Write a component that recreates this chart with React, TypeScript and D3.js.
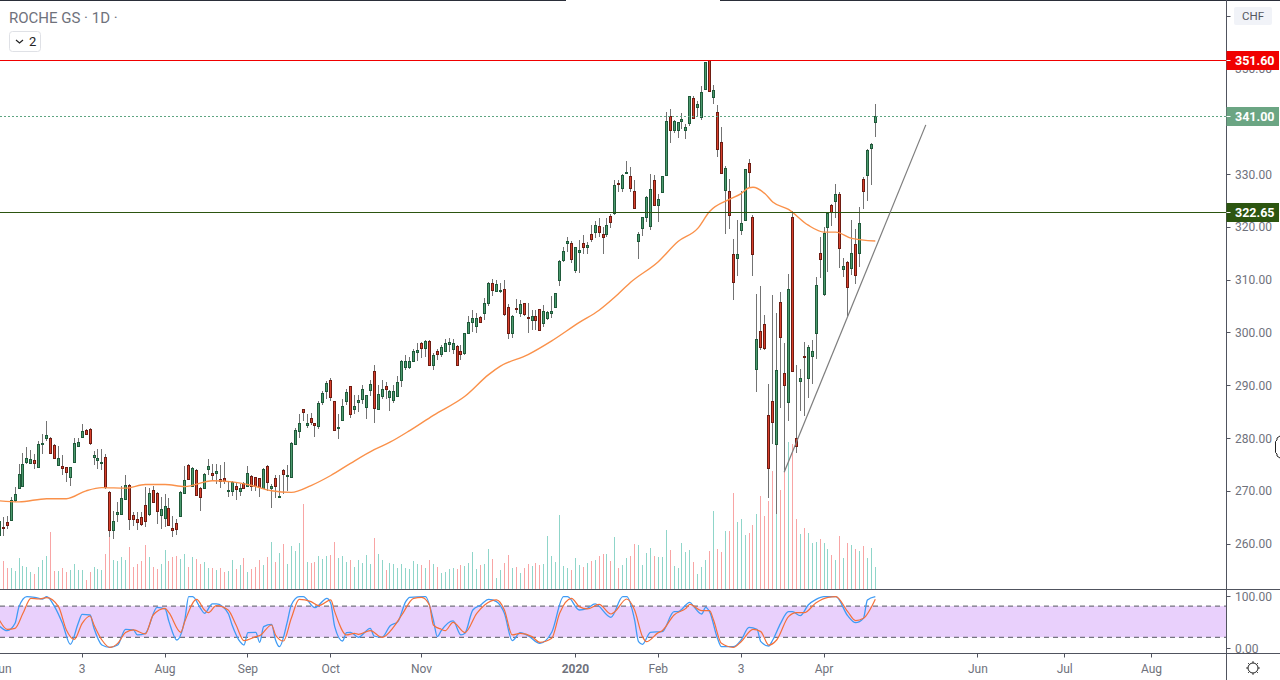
import React from "react";
import * as d3 from "d3";

const opens = [
  261.7,263.1,264.0,264.4,268.3,270.5,270.9,275.4,275.2,275.9,
  274.5,278.8,280.0,280.0,278.7,274.8,274.7,274.5,272.6,275.5,
  278.4,280.2,281.6,281.7,276.4,275.9,275.2,276.4,269.8,262.6,
  265.6,265.7,268.4,271.1,265.4,264.7,265.0,267.3,265.6,270.2,
  269.6,265.4,264.9,266.8,263.0,263.9,265.2,269.5,274.9,270.9,
  274.0,270.5,270.5,274.1,273.4,273.3,272.3,272.5,269.9,269.9,
  270.9,269.9,271.5,270.9,272.8,272.6,272.4,270.6,274.7,270.5,
  272.4,268.9,274.0,272.8,272.6,278.8,281.3,285.4,282.4,283.8,
  282.8,282.3,286.8,288.9,291.0,287.1,281.9,283.4,287.0,289.9,
  285.5,286.8,287.4,285.8,289.1,292.6,285.5,288.0,289.9,287.7,
  287.2,288.0,291.0,293.4,293.4,294.6,296.2,297.9,297.1,298.4,
  293.8,296.5,295.9,296.5,297.8,296.9,297.5,296.5,296.1,299.9,
  302.0,301.3,303.0,303.7,305.6,309.4,307.9,307.9,308.3,304.9,
  299.8,304.7,303.7,305.5,303.0,302.4,303.2,304.4,301.8,302.7,
  303.6,304.9,310.0,313.7,317.0,317.0,311.8,315.3,317.0,316.2,
  318.7,319.1,320.1,318.7,318.7,322.0,322.7,328.3,327.4,330.2,
  329.7,326.7,317.4,319.8,321.9,320.2,328.8,324.2,326.5,329.9,
  340.9,338.3,338.3,340.1,338.4,339.6,344.4,342.7,340.8,346.1,
  351.5,344.5,341.7,336.0,326.9,326.7,314.9,314.0,319.3,321.2,
  332.0,321.8,293.1,300.3,301.5,284.4,287.1,278.8,305.7,292.4,
  286.8,321.8,280.0,290.8,295.5,291.4,295.5,299.9,315.0,307.3,
  320.0,324.1,324.9,326.3,312.0,313.4,312.2,316.8,315.1,329.0,
  329.9,335.0,339.9,
];
const highs = [
  265.1,265.0,265.3,268.8,270.8,275.0,277.1,278.3,277.8,277.0,
  279.4,280.8,283.3,280.2,278.9,278.4,276.7,274.6,274.6,280.0,
  280.0,282.7,281.7,281.8,277.6,278.0,278.0,276.9,269.9,266.2,
  267.8,271.0,272.9,271.3,265.9,265.9,265.9,270.7,270.5,271.0,
  269.8,268.9,269.3,268.7,265.3,264.7,269.9,274.7,275.0,274.6,
  274.2,270.8,273.3,276.0,275.1,275.1,274.8,275.4,271.9,271.9,
  271.6,271.3,271.6,274.7,272.9,272.7,272.5,274.3,274.8,271.3,
  272.9,272.9,274.2,274.8,279.2,281.9,284.6,285.4,284.6,284.8,
  282.9,287.1,288.9,290.8,291.4,287.1,284.6,287.3,289.3,289.9,
  288.1,288.1,290.0,288.2,290.9,293.9,290.0,290.9,290.6,289.1,
  290.1,291.7,294.7,295.8,295.3,296.9,297.9,298.2,298.5,298.5,
  296.1,296.9,297.6,298.8,299.0,298.8,297.6,297.6,299.8,303.1,
  304.2,303.6,303.2,306.6,309.5,310.1,309.9,309.3,310.0,305.3,
  303.3,306.4,306.1,305.5,305.5,304.2,304.2,304.5,305.1,304.0,
  306.9,307.4,313.7,316.2,318.1,317.3,316.2,317.5,318.4,317.2,
  320.3,321.1,321.6,320.0,321.6,322.5,328.9,328.9,330.0,332.5,
  331.3,328.9,319.1,321.8,325.8,330.0,329.8,326.2,329.7,341.8,
  342.3,340.2,339.9,341.5,339.5,344.8,344.7,343.9,346.7,351.3,
  351.6,346.9,343.1,338.9,331.5,329.0,317.6,321.3,326.8,331.0,
  332.8,322.2,307.2,308.8,303.3,290.2,307.0,303.6,307.6,297.9,
  311.0,322.9,293.8,293.1,298.2,297.6,298.5,310.5,318.0,320.0,
  322.7,324.4,328.2,326.6,314.0,313.6,321.3,319.5,323.7,329.4,
  334.7,335.8,343.3,
];
const lows = [
  261.2,261.5,262.7,264.2,267.8,270.4,270.8,275.1,275.1,274.1,
  274.4,277.0,279.4,277.0,276.0,274.7,272.9,271.6,271.0,275.4,
  278.3,280.0,280.6,278.6,274.8,274.2,274.0,270.4,261.3,260.8,
  264.0,265.6,268.3,262.6,263.4,262.6,263.4,263.2,265.3,267.7,
  263.8,262.8,263.1,263.3,261.3,261.7,265.0,269.4,272.1,270.7,
  269.1,266.2,270.3,272.9,271.9,271.3,270.5,271.3,268.8,269.1,
  268.3,269.1,270.4,270.7,270.0,270.0,268.8,270.5,270.0,266.7,
  268.7,268.8,269.4,270.0,272.4,278.7,280.0,283.2,281.9,282.4,
  280.2,281.7,286.2,287.4,287.1,281.4,279.8,283.3,286.2,283.8,
  284.6,284.9,286.5,283.6,287.9,282.8,285.3,287.4,287.4,285.1,
  286.6,288.0,289.6,292.9,293.1,294.5,294.6,295.2,295.3,293.8,
  292.9,294.7,295.3,296.5,296.3,296.0,293.6,294.7,295.7,299.8,
  300.1,299.9,301.8,302.3,305.0,306.9,307.6,307.4,303.2,298.8,
  298.9,303.6,302.9,303.2,299.8,300.4,300.4,300.4,301.0,302.3,
  302.7,304.8,308.8,313.4,315.3,313.2,311.3,311.3,314.8,314.8,
  317.2,317.8,318.1,314.8,318.1,319.8,322.2,326.6,326.6,330.0,
  326.6,323.4,313.9,318.3,321.0,319.4,324.0,321.0,326.5,329.7,
  335.8,337.7,336.9,338.5,336.7,339.0,340.4,340.9,340.2,345.9,
  345.6,343.3,333.3,330.0,318.6,319.6,306.1,310.6,318.4,321.2,
  327.3,310.6,288.8,296.6,296.6,268.7,278.8,265.7,285.6,273.5,
  283.3,292.7,277.1,285.1,284.1,287.5,290.2,294.9,310.3,306.9,
  311.5,320.1,321.6,312.2,310.5,303.2,310.8,309.1,312.4,323.4,
  324.8,327.9,337.1,
];
const closes = [
  264.2,262.9,263.6,268.3,269.4,273.2,275.1,276.2,276.0,275.2,
  278.9,279.0,280.6,277.1,276.2,276.2,274.4,273.5,274.5,279.1,
  279.3,281.4,280.7,279.0,276.7,276.2,275.5,270.7,262.5,264.3,
  266.0,268.7,271.1,264.6,264.6,264.0,263.7,264.2,269.5,267.8,
  266.1,266.6,267.1,263.5,262.5,262.7,269.8,272.1,272.2,274.3,
  269.2,268.8,273.2,274.7,272.9,273.8,271.8,271.8,270.2,271.7,
  270.3,270.5,270.5,273.4,270.9,270.9,270.8,274.2,271.6,270.9,
  270.9,269.0,273.1,272.9,279.1,281.6,282.9,284.9,282.9,283.1,
  282.4,286.7,288.6,290.5,287.8,281.5,282.1,286.1,288.8,284.6,
  286.1,287.2,289.3,288.2,290.3,285.7,288.4,289.3,289.3,288.9,
  288.9,290.7,294.5,294.6,294.6,296.5,296.7,297.0,298.4,293.8,
  295.8,295.9,297.3,297.9,298.1,297.9,293.8,295.9,299.8,301.9,
  302.8,302.8,302.0,305.5,309.4,308.1,309.1,308.1,303.4,299.9,
  303.2,304.5,305.3,303.4,302.7,303.2,302.4,300.5,304.1,303.8,
  304.1,307.4,313.6,315.5,317.3,313.9,316.1,315.7,316.1,316.5,
  317.7,320.4,319.1,318.0,320.3,321.0,327.9,328.2,329.9,330.3,
  327.4,323.5,318.7,321.8,325.6,327.1,324.1,325.2,329.7,340.0,
  338.3,340.0,339.8,340.4,338.9,344.7,340.6,343.2,345.5,351.2,
  345.7,345.9,334.7,330.1,331.1,322.3,309.6,314.8,320.8,330.9,
  330.3,314.9,298.8,297.2,297.1,274.3,283.0,292.8,299.1,290.0,
  308.2,292.7,278.5,291.4,295.4,297.3,296.5,308.9,313.9,318.8,
  322.7,322.8,326.3,316.0,312.5,308.6,315.0,310.9,320.8,326.8,
  334.5,335.6,341.0,
];
const volumes = [
  28,28.3,21,21,18.3,31.3,23.3,22,17,15.3,22.3,29.3,33.3,57.3,18.3,18.3,21.3,17.3,19.3,25.3,
  19.3,19.3,9.3,17.3,22.3,20.3,19.3,35.3,53.3,29.3,28.3,32.3,29.3,42.3,22.3,25.3,28.3,44.3,32.3,22.3,
  20.3,25.3,39.3,28.3,32.3,33.3,30.3,35.3,22.3,32.3,30.3,25.3,27.3,21.3,21.3,19.3,21.3,17.3,18.3,29.3,
  20.3,24.3,31.3,17.3,20.3,22.3,29.3,24.3,32.3,47.3,27.3,36.3,45.3,25.3,43.3,38.3,46.3,85.3,27.3,26.3,
  27.3,33.3,30.3,33.3,34.3,47.3,31.3,33.3,27.3,29.3,22.3,29.3,26.3,34.3,25.3,51.3,35.3,29.3,19.3,26.3,
  25.3,21.3,25.3,21.3,20.3,28.3,25.3,24.3,21.3,29.3,25.3,22.3,
  16,17,20,21,20,24,23,26,37,20,24,25,40,30,11,19,26,34,21,22,
  16,21,25,23,26,24,25,53,33,27,74,23,21,19,31,24,22,26,28,29,
  33,35,35,28,52,21,24,31,33,45,44,24,36,41,33,32,32,59,39,23,
  21,46,37,39,27,15,22,29,38,78,40,37,58,58,96,67,70,54,56,64,
  75,93,73,88,118,89,99,119,147,145,70,55,61,56,46,47,50,46,40,34,
  29,53,31,46,44,40,38,43,31,41,22,
];

// moving average, read at its bends
const maIdx = [0,5,12,17,22,26,32,37,42,47,54,59,64,69,74,79,84,89,95,99,104,110,118,124,127,134,140,147,152,156,160,167,172,177,180,185,188,190,191,194,196,200,205,209,212,216,222];
const maVals = [268.1,267.9,268.5,268.5,270.0,270.6,270.5,271.2,271.2,270.8,271.9,271.7,271.0,270.0,269.7,271.0,272.9,275.2,277.8,279.2,281.4,284.3,287.9,292.0,293.6,295.8,298.4,301.9,304.2,306.7,309.5,313.4,317.2,319.7,322.9,325.2,326.3,327.4,327.5,326.3,324.7,323.3,320.3,319.0,319.0,317.8,317.3];

// stochastic %K
const kIdx = [0,2,4,5,7,9,11,12,14,16,18,20,21,23,24,26,28,30,32,34,35,37,40,42,43,45,47,48,49,51,52,54,55,58,59,61,62,63,65,66,67,69,70,71,73,74,76,77,80,81,83,84,85,87,88,89,91,94,95,97,99,101,103,104,108,110,111,112,115,117,118,120,122,124,126,128,130,132,134,137,140,143,144,147,149,151,155,158,159,161,162,163,165,168,171,172,175,176,178,179,180,182,183,186,188,190,192,193,195,196,198,200,201,203,205,207,209,212,215,217,219,220,222];
const kVals = [41.8,32.8,46.9,79,98.2,96.9,93.7,98.2,79,46.9,6.5,46.9,64.2,62.9,37.3,5.2,0.7,5.2,35.4,34.1,24.5,27.7,77.7,74.5,50.1,14.8,53.3,98.2,98.2,75.7,66.1,84.1,84.1,66.1,43.7,11.6,5.2,29,29.6,10.4,40.5,45,14.8,2,50.1,82.2,98.2,98.2,77,82.2,95,85.4,40.5,12.9,29,29.6,20,37.3,22.5,20,41.8,50.1,88.6,96.9,98.2,53.3,21.3,32.8,51.4,24.5,27.7,72.5,82.2,93,88.6,66.1,13.6,29,23.2,8.4,29.6,98.2,98.2,72.5,75.7,84.1,58.4,98.2,98.2,53.3,11.6,6.5,29.6,30.9,69.3,69.3,87.3,79,64.8,77.7,69.3,18.1,2,2,14.8,39.2,35.4,11.6,3.3,14.8,46.9,69.3,69.3,61.6,82.2,93,98.2,98.2,61.6,48.2,56.5,91.8,98.2];
// stochastic %D
const dIdx = [0,2,4,6,8,10,12,15,17,19,21,23,24,26,28,30,32,34,37,39,42,43,46,47,50,52,53,55,58,60,62,65,66,69,70,72,74,76,79,81,84,85,88,90,91,94,97,100,102,105,107,109,110,112,113,115,118,121,123,126,128,130,132,135,137,140,142,145,147,149,152,155,156,159,161,163,164,167,168,171,174,175,178,180,181,183,186,188,191,193,195,197,200,202,204,207,210,212,215,217,219,222];
const dVals = [53.3,35.4,37.3,66.1,95,93.7,96.3,79,34.1,16.1,46.9,61,43.7,14.8,0.7,8.4,29,34.1,26.4,62.9,75.7,67.4,29.6,50.1,93,72.5,67.4,80.9,72.5,43.7,13.6,21.3,23.2,43.7,24.5,12.9,56.5,93,88.6,80.9,91.8,69.3,24.5,27.7,25.7,32.8,20,40.5,62.9,95,96.9,82.2,43.7,35.4,32.8,48.8,29,66.1,82.2,91.8,72.5,24.5,27.7,21.3,10.4,18.1,66.1,95,79,74.5,83.4,64.8,69.3,93.7,72.5,21.3,11.6,29,32.8,62.9,75.7,83.4,71.3,71.3,53.3,8.4,0.7,11.6,35.4,30.9,5.2,14.8,59.7,67.4,67.4,86.6,96.9,98.2,69.3,52,56.5,93];

const priceTicks = [260, 270, 280, 290, 300, 310, 320, 330, 350];
const stochTicks = [100, 0];
const timeTickIdx = [0.6, 21, 42, 63, 84, 107, 146, 167, 188, 209, 248, 270, 292];
const timeTickLabels = ["Jun", "3", "Aug", "Sep", "Oct", "Nov", "2020", "Feb", "3", "Apr", "Jun", "Jul", "Aug"];

const resistance = 351.6;
const support = 322.65;
const lastPrice = 341.0;
const trendIdx = [198.9, 234.8];
const trendVals = [273.5, 339.3];

const W = 1280;
const H = 680;
const plotR = 1226.5;
const paneTop = 589.5;
const paneBottom = 653.5;

const font = "Roboto, 'Liberation Sans', sans-serif";
const grey = "#6f727c";
const axisCol = "#50535e";

const x = d3.scaleLinear().domain([0, 222]).range([-0.7, 875.3]);
const y = d3.scaleLinear().domain([260, 330]).range([543.6, 174]);
const yVol = d3.scaleLinear().domain([0, 147]).range([589, 442]);
const yStoch = d3.scaleLinear().domain([0, 100]).range([647.7, 595.7]);

const maLine = d3
  .line<number>()
  .x((d) => x(d))
  .y((_, i) => y(maVals[i]))
  .curve(d3.curveMonotoneX);
const kLine = d3
  .line<number>()
  .x((d) => x(d))
  .y((_, i) => yStoch(kVals[i]))
  .curve(d3.curveMonotoneX);
const dLine = d3
  .line<number>()
  .x((d) => x(d))
  .y((_, i) => yStoch(dVals[i]))
  .curve(d3.curveMonotoneX);

const fmt = d3.format(".2f");
const levelY = (v: number) => Math.floor(y(v) + 0.1) + 0.5;

const PriceTag = ({ value, fill }: { value: number; fill: string }) => {
  const cy = levelY(value);
  return (
    <g>
      <rect x={plotR} y={cy - 9.5} width={W - plotR - 1} height={19} fill={fill} />
      <line x1={plotR} x2={plotR + 4} y1={cy} y2={cy} stroke="#fff" />
      <text x={1235} y={cy + 4.5} fill="#fff" fontSize={12.5} fontWeight={700} fontFamily={font}>
        {fmt(value)}
      </text>
    </g>
  );
};

export default function App() {
  return (
    <svg
      width={W}
      height={H}
      style={{ position: "fixed", left: 0, top: 0, background: "#fff" }}
    >
      <defs>
        <clipPath id="plot">
          <rect x={0} y={0} width={plotR} height={paneTop} />
        </clipPath>
      </defs>

      {/* volume */}
      <g shapeRendering="crispEdges">
        {volumes.map((v, i) => (
          <rect
            key={i}
            x={Math.floor(x(i))}
            y={yVol(v)}
            width={1}
            height={yVol(0) - yVol(v)}
            fill={closes[i] >= opens[i] ? "#8fd5c9" : "#f8a5a5"}
          />
        ))}
      </g>

      {/* candles */}
      <g shapeRendering="crispEdges" clipPath="url(#plot)">
        {opens.map((o, i) => {
          const c = closes[i];
          const up = c >= o;
          const px = Math.floor(x(i));
          const top = Math.round(y(Math.max(o, c)));
          const bot = Math.max(Math.round(y(Math.min(o, c))), top + 1);
          return (
            <g key={i}>
              <rect
                x={px}
                y={y(highs[i])}
                width={1}
                height={y(lows[i]) - y(highs[i])}
                fill="#737373"
              />
              <rect
                x={px - 0.5}
                y={top + 0.5}
                width={2}
                height={bot - top}
                fill={up ? "#4b9a6e" : "#d8402c"}
                stroke={up ? "#1f5a3a" : "#6e1c12"}
                strokeWidth={1}
              />
            </g>
          );
        })}
      </g>

      {/* moving average */}
      <path d={maLine(maIdx) || ""} fill="none" stroke="#fa914a" strokeWidth={1.4} />

      {/* horizontal levels */}
      <line x1={0} x2={plotR} y1={levelY(resistance)} y2={levelY(resistance)} stroke="#f00000" />
      <line x1={0} x2={plotR} y1={levelY(support)} y2={levelY(support)} stroke="#2c5510" />
      <line x1={0} x2={plotR} y1={levelY(lastPrice)} y2={levelY(lastPrice)} stroke="#5fa582" strokeDasharray="2 2" />

      {/* trend line */}
      <line
        x1={x(trendIdx[0])}
        y1={y(trendVals[0])}
        x2={x(trendIdx[1])}
        y2={y(trendVals[1])}
        stroke="#7d7d7d"
        strokeWidth={1.2}
      />

      {/* stochastic pane */}
      <rect
        x={0}
        y={yStoch(80)}
        width={plotR}
        height={yStoch(20) - yStoch(80)}
        fill="#e9d0fc"
      />
      <line x1={0} x2={plotR} y1={yStoch(80)} y2={yStoch(80)} stroke="#55575f" strokeDasharray="5 4" />
      <line x1={0} x2={plotR} y1={yStoch(20)} y2={yStoch(20)} stroke="#55575f" strokeDasharray="5 4" />
      <path d={kLine(kIdx) || ""} fill="none" stroke="#3f9bf5" strokeWidth={1.3} />
      <path d={dLine(dIdx) || ""} fill="none" stroke="#f4703a" strokeWidth={1.2} />

      {/* frame */}
      <line x1={0} x2={566} y1={0.5} y2={0.5} stroke="#2a2e39" />
      <line x1={720} x2={W} y1={0.5} y2={0.5} stroke="#2a2e39" />
      <line x1={0} x2={W} y1={paneTop} y2={paneTop} stroke={axisCol} />
      <line x1={0} x2={W} y1={paneBottom} y2={paneBottom} stroke={axisCol} />
      <line x1={plotR} x2={plotR} y1={0} y2={H} stroke={axisCol} />

      {/* price axis */}
      {priceTicks.map((t) => (
        <g key={t}>
          <line x1={plotR} x2={plotR + 4} y1={Math.round(y(t)) + 0.5} y2={Math.round(y(t)) + 0.5} stroke={axisCol} />
          <text x={1235} y={y(t) + 4.5} fontSize={12} fill={grey} fontFamily={font}>
            {fmt(t)}
          </text>
        </g>
      ))}
      <line x1={plotR} x2={plotR + 4} y1={16.5} y2={16.5} stroke={axisCol} />
      {stochTicks.map((t) => (
        <g key={t}>
          <line x1={plotR} x2={plotR + 4} y1={Math.round(yStoch(t)) + 0.5} y2={Math.round(yStoch(t)) + 0.5} stroke={axisCol} />
          <text x={1235} y={yStoch(t) + 5} fontSize={12} fill={grey} fontFamily={font}>
            {fmt(t)}
          </text>
        </g>
      ))}
      <PriceTag value={resistance} fill="#f00000" />
      <PriceTag value={lastPrice} fill="#6ba583" />
      <PriceTag value={support} fill="#2c5510" />

      {/* CHF button */}
      <rect x={1234} y={7} width={38} height={18} rx={2} fill="#f1f3f8" />
      <text x={1253} y={20} textAnchor="middle" fontSize={11.5} fill="#55585f" fontFamily={font}>
        CHF
      </text>

      {/* time axis */}
      {timeTickIdx.map((t, i) => (
        <g key={i}>
          {i > 0 && (
            <line x1={Math.floor(x(t)) + 0.5} x2={Math.floor(x(t)) + 0.5} y1={paneBottom} y2={paneBottom + 4} stroke={axisCol} />
          )}
          <text
            x={x(t)}
            y={673}
            textAnchor="middle"
            fontSize={12}
            fontWeight={timeTickLabels[i] === "2020" ? 700 : 400}
            fill={grey}
            fontFamily={font}
          >
            {timeTickLabels[i]}
          </text>
        </g>
      ))}

      {/* legend */}
      <text x={9} y={23} fontSize={15} fill={grey} fontFamily={font}>
        ROCHE GS · 1D ·
      </text>
      <rect x={9.5} y={31.5} width={31} height={20} rx={3} fill="#fff" stroke="#dfe1e6" />
      <path d="M16 40 l3.5 3 l3.5 -3" fill="none" stroke="#222" strokeWidth={1.2} />
      <text x={29} y={46} fontSize={13} fill="#222" fontFamily={font}>
        2
      </text>

      {/* settings gear */}
      <g transform="translate(1253,668)" stroke="#222" fill="none">
        <circle r={5} />
        {d3.range(8).map((i) => {
          const a = (i * Math.PI) / 4;
          return (
            <line
              key={i}
              x1={5 * Math.cos(a)}
              y1={5 * Math.sin(a)}
              x2={6.8 * Math.cos(a)}
              y2={6.8 * Math.sin(a)}
            />
          );
        })}
      </g>

      {/* resize cursor at the edge */}
      <path
        d="M1280 436 l-3 2 v2 l-1.5 1.5 v11 l1.5 1.5 v2 l3 2"
        fill="#fff"
        stroke="#222"
      />
    </svg>
  );
}
